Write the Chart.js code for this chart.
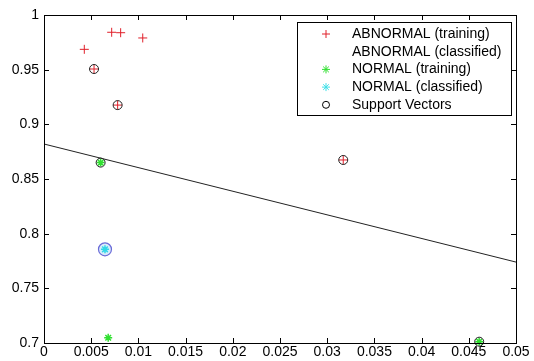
<!DOCTYPE html>
<html>
<head>
  <title>SVM classification</title>
  <script src="https://cdn.jsdelivr.net/npm/chart.js"></script>
  <style>
    body { margin: 0; background: #fff; }
    #wrap { width: 534px; height: 361px; }
  </style>
</head>
<body>
  <div id="wrap"><canvas id="svmChart"></canvas></div>

  <script>
    const xTicks = [0, 0.005, 0.01, 0.015, 0.02, 0.025, 0.03, 0.035, 0.04, 0.045, 0.05];
    const yTicks = [0.7, 0.75, 0.8, 0.85, 0.9, 0.95, 1];

    const abnormalTrainX = [0.00427, 0.00717, 0.00812, 0.01046, 0.0053, 0.0078, 0.0317];
    const abnormalTrainY = [0.9686, 0.9842, 0.9838, 0.979, 0.9506, 0.9176, 0.8674];

    const normalTrainX = [0.0060, 0.0068, 0.0461];
    const normalTrainY = [0.865, 0.7048, 0.7012];

    const normalClassX = [0.00646];
    const normalClassY = [0.7857];

    const svX = [0.0053, 0.0078, 0.0317, 0.0060, 0.0461];
    const svY = [0.9506, 0.9176, 0.8674, 0.865, 0.7012];

    const boundaryX = [0, 0.05];
    const boundaryY = [0.882, 0.774];

    const legendLabels = ['ABNORMAL (training)', 'ABNORMAL (classified)', 'NORMAL (training)', 'NORMAL (classified)', 'Support Vectors'];

    const pts = (xs, ys) => xs.map((x, i) => ({ x, y: ys[i] }));
    const FONT = '"Liberation Sans", Arial, sans-serif';

    // MATLAB style box, inward ticks and boxed legend
    const matlabFrame = {
      id: 'matlabFrame',
      afterDraw(chart) {
        const { ctx, chartArea: a, scales } = chart;
        ctx.save();
        ctx.strokeStyle = '#000';
        ctx.lineWidth = 1;
        ctx.beginPath();
        xTicks.forEach(v => {
          const px = Math.round(scales.x.getPixelForValue(v)) + 0.5;
          ctx.moveTo(px, a.bottom); ctx.lineTo(px, a.bottom - 5);
          ctx.moveTo(px, a.top); ctx.lineTo(px, a.top + 5);
        });
        yTicks.forEach(v => {
          const py = Math.round(scales.y.getPixelForValue(v)) + 0.5;
          ctx.moveTo(a.left, py); ctx.lineTo(a.left + 5, py);
          ctx.moveTo(a.right, py); ctx.lineTo(a.right - 5, py);
        });
        ctx.stroke();
        ctx.strokeRect(Math.round(a.left) + 0.5, Math.round(a.top) + 0.5,
          Math.round(a.right - a.left), Math.round(a.bottom - a.top));

        // legend
        const lx = 297, ly = 22, lw = 214, lh = 93;
        ctx.fillStyle = '#fff';
        ctx.fillRect(lx, ly, lw, lh);
        ctx.strokeRect(lx + 0.5, ly + 0.5, lw, lh);
        ctx.font = '14px ' + FONT;
        ctx.textBaseline = 'middle';
        legendLabels.forEach((t, i) => {
          const y = ly + 12 + i * 17.7;
          const mx = 326;
          ctx.fillStyle = '#000';
          ctx.fillText(t, 352, y);
          ctx.beginPath();
          if (i === 0) {
            ctx.strokeStyle = '#e0202a';
            ctx.moveTo(mx - 4, y); ctx.lineTo(mx + 4, y);
            ctx.moveTo(mx, y - 4); ctx.lineTo(mx, y + 4);
          } else if (i === 2 || i === 3) {
            ctx.strokeStyle = i === 2 ? '#30e030' : '#40e0e8';
            for (let k = 0; k < 4; k++) {
              const ang = k * Math.PI / 4;
              ctx.moveTo(mx - 4 * Math.cos(ang), y - 4 * Math.sin(ang));
              ctx.lineTo(mx + 4 * Math.cos(ang), y + 4 * Math.sin(ang));
            }
          } else if (i === 4) {
            ctx.strokeStyle = '#000';
            ctx.arc(mx, y, 3.5, 0, Math.PI * 2);
          }
          ctx.stroke();
        });
        ctx.restore();
      }
    };

    // first dataset in the list ends up on top
    new Chart(document.getElementById('svmChart'), {
      type: 'scatter',
      data: {
        datasets: [
          {
            label: legendLabels[4],
            data: pts(svX, svY),
            pointStyle: 'circle',
            pointRadius: 4.5,
            borderColor: '#222',
            backgroundColor: 'rgba(0,0,0,0)',
            borderWidth: 1,
            clip: false
          },
          {
            label: legendLabels[3],
            data: pts(normalClassX, normalClassY),
            pointStyle: 'star',
            pointRadius: 4,
            borderColor: '#30d8e8',
            borderWidth: 1.5
          },
          {
            label: legendLabels[2],
            data: pts(normalTrainX, normalTrainY),
            pointStyle: 'star',
            pointRadius: 4,
            borderColor: '#30e030',
            borderWidth: 1.5,
            clip: false
          },
          {
            label: legendLabels[0],
            data: pts(abnormalTrainX, abnormalTrainY),
            pointStyle: 'cross',
            pointRadius: 4.5,
            borderColor: '#e0202a',
            borderWidth: 1,
            clip: false
          },
          {
            label: 'classified circle',
            data: pts(normalClassX, normalClassY),
            pointStyle: 'circle',
            pointRadius: 6.5,
            borderColor: '#6a6ad8',
            backgroundColor: '#d8ecfa',
            borderWidth: 1.2
          },
          {
            label: 'boundary',
            type: 'line',
            data: pts(boundaryX, boundaryY),
            borderColor: '#222',
            borderWidth: 1,
            pointRadius: 0,
            fill: false
          }
        ]
      },
      options: {
        responsive: true,
        maintainAspectRatio: false,
        animation: false,
        layout: { padding: { top: 15, right: 18, left: 0, bottom: 0 } },
        plugins: { legend: { display: false }, tooltip: { enabled: false } },
        scales: {
          x: {
            type: 'linear',
            min: 0,
            max: 0.05,
            grid: { display: false, drawTicks: false },
            border: { display: false },
            afterBuildTicks: s => { s.ticks = xTicks.map(v => ({ value: v })); },
            afterFit: s => { s.height = 18; },
            ticks: {
              padding: 1,
              color: '#000',
              font: { family: FONT, size: 14 },
              maxRotation: 0,
              autoSkip: false,
              callback: v => String(v)
            }
          },
          y: {
            type: 'linear',
            min: 0.7,
            max: 1,
            grid: { display: false, drawTicks: false },
            border: { display: false },
            afterBuildTicks: s => { s.ticks = yTicks.map(v => ({ value: v })); },
            afterFit: s => { s.width = 44; },
            ticks: {
              padding: 5,
              color: '#000',
              font: { family: FONT, size: 14 },
              autoSkip: false,
              callback: v => String(v)
            }
          }
        }
      },
      plugins: [matlabFrame]
    });
  </script>
</body>
</html>
